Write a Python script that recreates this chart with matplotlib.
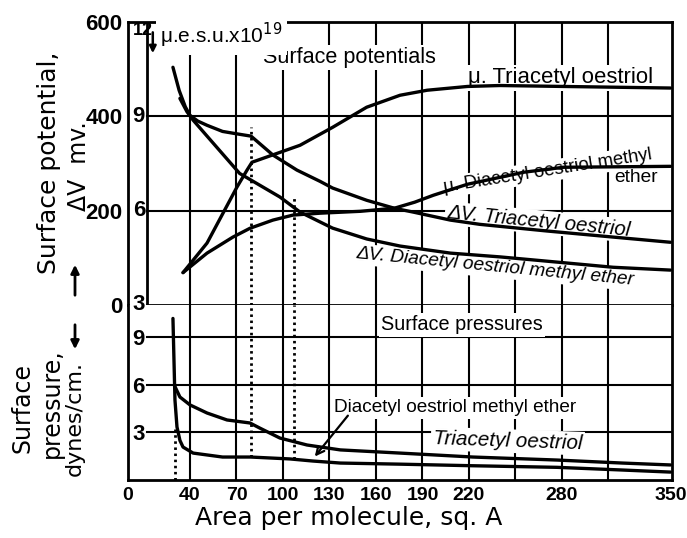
import numpy as np
import matplotlib
matplotlib.use("Agg")
import matplotlib.pyplot as plt
from matplotlib import font_manager
from matplotlib.patches import FancyArrowPatch

# ---------------- data ----------------
# Area per molecule (sq. A)
area_ticks = [0, 40, 70, 100, 130, 160, 190, 220, 280, 350]
grid_area = [40, 70, 100, 130, 160, 190, 220, 250, 280, 310]

# Surface potential dV (mV), triacetyl oestriol
dv_tri_area = [29, 33, 37, 40, 45, 51, 61, 70, 79.4, 93.5, 109, 124, 132, 154, 172, 184, 208, 227, 270, 313, 350]
dv_tri_mv = [504, 455, 420, 402, 390, 381, 368, 363, 358, 318, 286, 262, 248, 222, 205, 197, 180, 171, 157, 144, 133]

# Surface potential dV (mV), diacetyl oestriol methyl ether
dv_dia_area = [33.5, 38, 42, 55, 72, 98, 111, 132, 154, 175.5, 208, 240, 270, 313, 350]
dv_dia_mv = [438, 410, 392, 343, 279, 229, 197, 163, 140, 125, 110, 102, 93, 80, 74]

# Dipole moment mu (e.s.u. x 10^19), triacetyl oestriol
mu_tri_area = [35.5, 51, 61.3, 70.3, 76.8, 80, 111, 132, 154, 175.5, 193, 219, 240, 350]
mu_tri = [4.03, 4.97, 5.92, 6.75, 7.29, 7.54, 8.08, 8.65, 9.29, 9.67, 9.83, 9.95, 9.98, 9.9]

# Dipole moment mu (e.s.u. x 10^19), diacetyl oestriol methyl ether
mu_dia_area = [35.5, 51, 67.7, 78.7, 93.5, 106.5, 124, 150, 172, 185, 197, 219, 240, 255, 281, 350]
mu_dia = [4.03, 4.65, 5.16, 5.44, 5.70, 5.86, 5.92, 5.98, 6.08, 6.27, 6.49, 6.84, 7.06, 7.22, 7.38, 7.41]

# Surface pressure (dynes/cm.), triacetyl oestriol
p_tri_area = [30.3, 33.5, 40, 51, 63.9, 78.7, 85, 98, 115.5, 137, 175.5, 222.6, 276.8, 319, 350]
p_tri = [5.9, 5.24, 4.74, 4.23, 3.79, 3.6, 3.28, 2.65, 2.21, 1.9, 1.7, 1.45, 1.26, 1.07, 0.95]

# Surface pressure (dynes/cm.), diacetyl oestriol methyl ether
p_dia_area = [29.0, 30.3, 31.6, 33.5, 35.5, 42, 61, 79, 104.5, 119, 137, 175.5, 222.6, 276.8, 319, 350]
p_dia = [10.2, 5.05, 3.35, 2.5, 2.08, 1.7, 1.45, 1.45, 1.33, 1.2, 1.07, 1.0, 0.9, 0.8, 0.63, 0.5]

# Areas of the dotted construction lines
dotted_area = [30.5, 79.4, 107]

mv_ticks = [0, 200, 400, 600]
mu_ticks = [3, 6, 9, 12]
p_ticks = [3, 6, 9]

# ---------------- fonts ----------------
def pick(*names):
    for n in names:
        try:
            font_manager.findfont(font_manager.FontProperties(family=n),
                                  fallback_to_default=False)
            return n
        except ValueError:
            pass
    return "DejaVu Sans"


NARROW = pick("Liberation Sans Narrow", "Liberation Sans", "Roboto")
SANS = "DejaVu Sans"

# ---------------- figure ----------------
W, H = 687, 538
fig = plt.figure(figsize=(W / 100, H / 100), dpi=100)
L, R = 128 / W, 672 / W
ax_up = fig.add_axes([L, 1 - 305 / H, R - L, (305 - 22) / H])
ax_lo = fig.add_axes([L, 1 - 480 / H, R - L, (480 - 305) / H], sharex=ax_up)

XMAX = 351
INNER = 12  # left edge of the inner (mu) frame
P_TOP = 11.05
ax_up.set_xlim(0, XMAX)
ax_up.set_ylim(0, 600)
ax_lo.set_ylim(0, P_TOP)

LW_FRAME = 2.0
LW_GRID = 1.5
LW_CURVE = 2.4
K = "black"

for ax in (ax_up, ax_lo):
    for s in ax.spines.values():
        s.set_linewidth(LW_FRAME)
        s.set_color(K)
ax_up.spines["bottom"].set_visible(False)
ax_lo.spines["top"].set_visible(False)

# frame of the potential panel (inner mu axis and its base line)
ax_up.axvline(INNER, color=K, lw=LW_FRAME, zorder=2)
ax_up.axhline(0, xmin=INNER / XMAX, xmax=1, color=K, lw=LW_FRAME, zorder=2, clip_on=False)

# grid
for gx in grid_area:
    ax_up.axvline(gx, color=K, lw=LW_GRID, zorder=1)
    ax_lo.axvline(gx, color=K, lw=LW_GRID, zorder=1)
for gy in mv_ticks[1:-1]:
    ax_up.axhline(gy, xmin=INNER / XMAX, xmax=1, color=K, lw=LW_GRID, zorder=1)
for gy in p_ticks:
    ax_lo.axhline(gy, xmin=INNER / XMAX, xmax=1, color=K, lw=LW_GRID, zorder=1)

# ticks
ax_lo.set_xticks(area_ticks)
ax_lo.set_xticklabels([str(t) for t in area_ticks],
                      fontdict=dict(family=NARROW, weight="bold", size=14))
ax_lo.tick_params(axis="x", length=0, pad=5)
ax_up.tick_params(axis="x", length=0, labelbottom=False)

ax_up.set_yticks(mv_ticks)
ax_up.set_yticklabels([str(t) for t in mv_ticks],
                      fontdict=dict(family=NARROW, weight="bold", size=16))
ax_up.tick_params(axis="y", length=0, pad=4)

ax_lo.set_yticks(p_ticks)
ax_lo.set_yticklabels([str(t) for t in p_ticks],
                      fontdict=dict(family=NARROW, weight="bold", size=16))
ax_lo.tick_params(axis="y", length=0, pad=-3)
for lbl in ax_lo.get_yticklabels():
    lbl.set_horizontalalignment("left")

# mu scale on the inner frame
ax_mu = ax_up.twinx()
ax_mu.set_ylim(3, 12)
ax_mu.axis("off")
for m in mu_ticks[:-1]:
    ax_mu.text(3, m, str(m), ha="left", va="center", family=NARROW,
               weight="bold", size=16, zorder=6)
ax_mu.text(3, mu_ticks[-1], str(mu_ticks[-1]), ha="left", va="top", family=NARROW,
           weight="bold", size=13, zorder=6)

# ---------------- curves ----------------
ck = dict(color=K, lw=LW_CURVE, zorder=5, solid_capstyle="round", solid_joinstyle="round")
ax_up.plot(dv_tri_area, dv_tri_mv, **ck)
ax_up.plot(dv_dia_area, dv_dia_mv, **ck)
ax_mu.plot(mu_tri_area, mu_tri, **ck)
ax_mu.plot(mu_dia_area, mu_dia, **ck)
ax_lo.plot(p_tri_area, p_tri, **ck)
ax_lo.plot(p_dia_area, p_dia, **ck)

# dotted construction lines
dk = dict(color=K, lw=2.0, linestyle=(0, (0.9, 1.3)), zorder=2)
d0, d1, d2 = dotted_area
ax_lo.plot([d0, d0], [0, 3.2], **dk)
ax_up.plot([d1, d1], [0, np.interp(d1, dv_tri_area, dv_tri_mv) + 20], **dk)
ax_lo.plot([d1, d1], [np.interp(d1, p_dia_area, p_dia), P_TOP], **dk)
ax_up.plot([d2, d2], [0, np.interp(d2, dv_dia_area, dv_dia_mv) + 25], **dk)
ax_lo.plot([d2, d2], [np.interp(d2, p_dia_area, p_dia), P_TOP], **dk)

# ---------------- labels ----------------
renderer = fig.canvas.get_renderer()


def fit(txt, width_px):
    """Scale a text so that its unrotated width is width_px pixels."""
    rot = txt.get_rotation()
    txt.set_rotation(0)
    w = txt.get_window_extent(renderer).width
    txt.set_fontsize(txt.get_fontsize() * width_px / w)
    txt.set_rotation(rot)
    return txt


box = dict(facecolor="white", edgecolor="none", pad=1.5)
lab = dict(family=NARROW, color=K, zorder=4, bbox=box, ha="center", va="center",
           rotation_mode="anchor", size=14)

fit(ax_up.text(143, 525, "Surface potentials", **lab), 174)
fit(ax_up.text(279, 482, "\u03bc. Triacetyl oestriol", **lab), 186)
fit(ax_up.text(271, 284, "\u03bc. Diacetyl oestriol methyl", rotation=9, **lab), 212)
fit(ax_up.text(328, 271, "ether", **lab), 44)
fit(ax_up.text(265, 176, "\u0394V. Triacetyl oestriol", rotation=-5.6,
               style="italic", **lab), 185)
fit(ax_up.text(237, 80, "\u0394V. Diacetyl oestriol methyl ether", rotation=-5.5,
               style="italic", **lab), 279)
fit(ax_up.text(20.6, 571, "\u03bc.e.s.u.x10$^{19}$", size=14,
               family=NARROW, ha="left", va="center", zorder=4,
               bbox=dict(facecolor="white", edgecolor="none", pad=3)), 123)
ax_up.annotate("", xy=(16, 528), xytext=(16, 584),
               arrowprops=dict(arrowstyle="-|>", color=K, lw=1.8, mutation_scale=10),
               zorder=6)

fit(ax_lo.text(215.5, 9.79, "Surface pressures", **lab), 163)
fit(ax_lo.text(211, 4.55, "Diacetyl oestriol methyl ether", **lab), 246)
fit(ax_lo.text(245, 2.46, "Triacetyl oestriol", rotation=-2, style="italic", **lab), 149)
tip_x = 119.4
ax_lo.annotate("", xy=(tip_x, np.interp(tip_x, p_dia_area, p_dia) + 0.15), xytext=(143, 4.2),
               arrowprops=dict(arrowstyle="->", color=K, lw=1.6, mutation_scale=14),
               zorder=6)

# axis titles
fig.text(49 / W, 1 - 163 / H, "Surface potential,", rotation=90, family=SANS,
         size=18, ha="center", va="center")
fig.text(79 / W, 1 - 166 / H, "\u0394V  mv.", rotation=90, family=SANS,
         size=17, ha="center", va="center")
fig.text(23 / W, 1 - 408 / H, "Surface", rotation=90, family=SANS,
         size=17, ha="center", va="center")
fig.text(52 / W, 1 - 403 / H, "pressure,", rotation=90, family=SANS,
         size=17, ha="center", va="center")
fig.text(75 / W, 1 - 418 / H, "dynes/cm.", rotation=90, family=SANS,
         size=16, ha="center", va="center")
fig.text(349 / W, 1 - 518 / H, "Area per molecule, sq. A", family=SANS,
         size=18, ha="center", va="center")

arr = dict(arrowstyle="-|>", color=K, lw=2.0, mutation_scale=12)
fig.add_artist(FancyArrowPatch((75 / W, 1 - 298 / H), (75 / W, 1 - 262 / H),
                               transform=fig.transFigure, **arr))
fig.add_artist(FancyArrowPatch((75 / W, 1 - 322 / H), (75 / W, 1 - 352 / H),
                               transform=fig.transFigure, **arr))

fig.savefig("out.png", dpi=100, facecolor="white")
